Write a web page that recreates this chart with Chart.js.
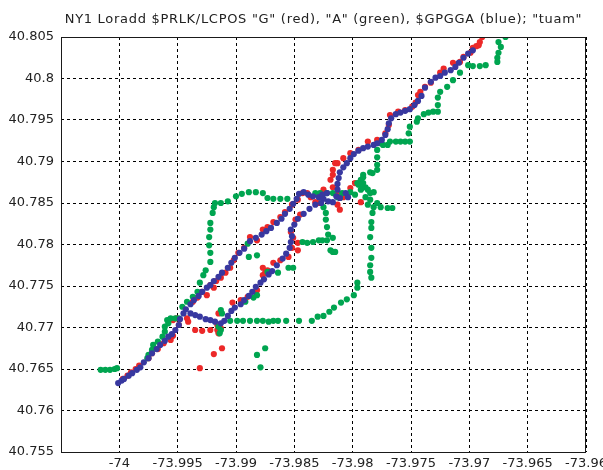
<!DOCTYPE html>
<html>
<head>
<meta charset="UTF-8">
<title>NY1 Loradd tracks</title>
<script src="https://cdn.jsdelivr.net/npm/chart.js@4.4.0/dist/chart.umd.min.js"></script>
<style>
  html, body { margin: 0; padding: 0; background: #fff; }
</style>
</head>
<body>
<canvas id="plot" width="603" height="470"></canvas>
<script>
var chartTitle = 'NY1 Loradd $PRLK/LCPOS "G" (red), "A" (green), $GPGGA (blue); "tuam"';

var xTicks = [-74.005, -74, -73.995, -73.99, -73.985, -73.98, -73.975, -73.97, -73.965, -73.96];
var yTicks = [40.755, 40.76, 40.765, 40.77, 40.775, 40.78, 40.785, 40.79, 40.795, 40.8, 40.805];

// $GPGGA (blue)
var blueLon = [-74.0001, -73.9998, -73.9996, -73.9992, -73.9989, -73.9985, -73.9982, -73.9979, -73.9975, -73.9972,
  -73.9968, -73.9965, -73.9961, -73.9958, -73.9955, -73.9952, -73.9949, -73.9948, -73.9945, -73.9943,
  -73.9939, -73.9936, -73.9932, -73.9929, -73.9925, -73.9922, -73.9919, -73.9915, -73.9912, -73.9907,
  -73.9904, -73.9901, -73.9897, -73.9893, -73.9888, -73.9883, -73.9878, -73.9874, -73.9870, -73.9865,
  -73.9861, -73.9858, -73.9854, -73.9851, -73.9848, -73.9846, -73.9842, -73.9838, -73.9834, -73.9829,
  -73.9825, -73.9821, -73.9817,
  -73.9939, -73.9935, -73.9931, -73.9926, -73.9922, -73.9918, -73.9913, -73.9910,
  -73.9907, -73.9904, -73.9901, -73.9896, -73.9893, -73.9889, -73.9886, -73.9883, -73.9879, -73.9876,
  -73.9872, -73.9869, -73.9865, -73.9860, -73.9857, -73.9854, -73.9853, -73.9852, -73.9853, -73.9850,
  -73.9847, -73.9842, -73.9837, -73.9832, -73.9827,
  -73.9814, -73.9813, -73.9813, -73.9812, -73.9811, -73.9808, -73.9805, -73.9802, -73.9799, -73.9795,
  -73.9791, -73.9787, -73.9782, -73.9779, -73.9775, -73.9772, -73.9770, -73.9769, -73.9767, -73.9763,
  -73.9759, -73.9755, -73.9751, -73.9747, -73.9744, -73.9741, -73.9738, -73.9733, -73.9729, -73.9725,
  -73.9721, -73.9716, -73.9712, -73.9709, -73.9705, -73.9701, -73.9697,
  -73.9806, -73.9804, -73.9811, -73.9822, -73.9826];
var blueLat = [40.7633, 40.7636, 40.7638, 40.7642, 40.7645, 40.7649, 40.7652, 40.7658, 40.7663, 40.7669,
  40.7674, 40.7679, 40.7684, 40.7689, 40.7692, 40.7697, 40.7703, 40.7710, 40.7717, 40.7722,
  40.7728, 40.7733, 40.7738, 40.7743, 40.7748, 40.7751, 40.7756, 40.7761, 40.7766, 40.7772,
  40.7778, 40.7784, 40.7790, 40.7795, 40.7804, 40.7808, 40.7812, 40.7816, 40.7820, 40.7826,
  40.7831, 40.7837, 40.7843, 40.7849, 40.7855, 40.7861, 40.7863, 40.7860, 40.7858, 40.7857,
  40.7855, 40.7852, 40.7851,
  40.7717, 40.7715, 40.7713, 40.7710, 40.7709, 40.7707, 40.7705, 40.7708,
  40.7714, 40.7720, 40.7724, 40.7728, 40.7733, 40.7738, 40.7743, 40.7749, 40.7754, 40.7758,
  40.7764, 40.7768, 40.7775, 40.7783, 40.7789, 40.7796, 40.7803, 40.7810, 40.7818, 40.7824,
  40.7831, 40.7837, 40.7843, 40.7848, 40.7850,
  40.7858, 40.7866, 40.7873, 40.7880, 40.7887, 40.7893, 40.7898, 40.7904, 40.7909, 40.7913,
  40.7916, 40.7918, 40.7920, 40.7922, 40.7926, 40.7932, 40.7939, 40.7946, 40.7952, 40.7957,
  40.7959, 40.7961, 40.7963, 40.7968, 40.7973, 40.7979, 40.7989, 40.7996, 40.8001, 40.8003,
  40.8007, 40.8010, 40.8014, 40.8019, 40.8025, 40.8030, 40.8034,
  40.7862, 40.7857, 40.7856, 40.7862, 40.7860];

// $PRLK/LCPOS "G" (red)
var redLon = [-73.9997, -73.9993, -73.9990, -73.9986, -73.9983, -73.9975, -73.9972, -73.9967, -73.9962, -73.9956,
  -73.9954, -73.9949, -73.9954, -73.9951, -73.9942, -73.9941, -73.9935, -73.9929, -73.9922, -73.9916,
  -73.9915, -73.9912, -73.9919, -73.9931,
  -73.9937, -73.9933, -73.9929, -73.9925, -73.9922, -73.9919, -73.9917, -73.9913, -73.9909, -73.9905,
  -73.9902, -73.9898, -73.9893, -73.9888, -73.9882, -73.9877, -73.9873, -73.9868, -73.9862, -73.9858,
  -73.9852, -73.9847, -73.9843, -73.9839, -73.9836, -73.9832, -73.9829,
  -73.9915, -73.9916, -73.9913, -73.9903, -73.9896, -73.9890, -73.9883, -73.9882, -73.9877, -73.9877,
  -73.9875, -73.9873, -73.9868, -73.9862, -73.9855, -73.9852, -73.9847, -73.9847, -73.9851, -73.9853,
  -73.9849, -73.9845,
  -73.9825, -73.9819, -73.9817, -73.9815, -73.9813, -73.9808, -73.9811, -73.9813, -73.9798, -73.9793,
  -73.9802, -73.9817,
  -73.9817, -73.9813, -73.9808, -73.9802, -73.9795, -73.9787, -73.9779, -73.9772, -73.9769, -73.9768,
  -73.9761, -73.9755, -73.9749, -73.9746, -73.9744, -73.9742, -73.9738, -73.9733, -73.9725, -73.9722,
  -73.9714, -73.9708, -73.9705, -73.9699, -73.9697, -73.9694, -73.9692, -73.9691, -73.9689];
var redLat = [40.7638, 40.7642, 40.7646, 40.7650, 40.7654, 40.7663, 40.7669, 40.7674, 40.7681, 40.7685,
  40.7690, 40.7703, 40.7709, 40.7711, 40.7711, 40.7707, 40.7697, 40.7696, 40.7697, 40.7697,
  40.7693, 40.7675, 40.7668, 40.7651,
  40.7731, 40.7736, 40.7743, 40.7739, 40.7751, 40.7748, 40.7756, 40.7760, 40.7766, 40.7772,
  40.7781, 40.7790, 40.7796, 40.7809, 40.7805, 40.7818, 40.7821, 40.7827, 40.7833, 40.7839,
  40.7848, 40.7854, 40.7862, 40.7862, 40.7857, 40.7851, 40.7850,
  40.7717, 40.7703, 40.7699, 40.7730, 40.7733, 40.7737, 40.7743, 40.7745, 40.7763, 40.7772,
  40.7766, 40.7769, 40.7778, 40.7781, 40.7785, 40.7796, 40.7793, 40.7802, 40.7808, 40.7815,
  40.7830, 40.7836,
  40.7866, 40.7878, 40.7884, 40.7898, 40.7862, 40.7857, 40.7842, 40.7848, 40.7874, 40.7851,
  40.7868, 40.7869,
  40.7890, 40.7898, 40.7904, 40.7910, 40.7914, 40.7924, 40.7926, 40.7934, 40.7944, 40.7956,
  40.7960, 40.7962, 40.7966, 40.7971, 40.7980, 40.7984, 40.7990, 40.7995, 40.8007, 40.8012,
  40.8019, 40.8020, 40.8026, 40.8031, 40.8037, 40.8039, 40.8040, 40.8044, 40.8050];

// "A" (green)
var greenLon = [-74.0016, -74.0012, -74.0008, -74.0004, -74.0002,
  -73.9976, -73.9975, -73.9972, -73.9971, -73.9967, -73.9963, -73.9961, -73.9961, -73.9958, -73.9959,
  -73.9956, -73.9952, -73.9949,
  -73.9946, -73.9942, -73.9937, -73.9933, -73.9931, -73.9928, -73.9926, -73.9922, -73.9922, -73.9923,
  -73.9923, -73.9922, -73.9922, -73.9920, -73.9919, -73.9918, -73.9913, -73.9907, -73.9900, -73.9895,
  -73.9889, -73.9883, -73.9877, -73.9873, -73.9868, -73.9862, -73.9856,
  -73.9832, -73.9828, -73.9822, -73.9817, -73.9813, -73.9811, -73.9809, -73.9802, -73.9798, -73.9793,
  -73.9789, -73.9796, -73.9793, -73.9791, -73.9785, -73.9779, -73.9779, -73.9783, -73.9791, -73.9791,
  -73.9795, -73.9792, -73.9787, -73.9785, -73.9782, -73.9789, -73.9785, -73.9787, -73.9782, -73.9779,
  -73.9776, -73.9770, -73.9766, -73.9783, -73.9784, -73.9784, -73.9785, -73.9784, -73.9784, -73.9785,
  -73.9785, -73.9784, -73.9796, -73.9796,
  -73.9828, -73.9825, -73.9823, -73.9823, -73.9822, -73.9821, -73.9822, -73.9826, -73.9829, -73.9834,
  -73.9839, -73.9843, -73.9817, -73.9819, -73.9817, -73.9815,
  -73.9890, -73.9882, -73.9889, -73.9855, -73.9851, -73.9873, -73.9864, -73.9885, -73.9892, -73.9882,
  -73.9913, -73.9912, -73.9915, -73.9913, -73.9914,
  -73.9905, -73.9899, -73.9894, -73.9888, -73.9882, -73.9877, -73.9872, -73.9868, -73.9864, -73.9857,
  -73.9846, -73.9835,
  -73.9830, -73.9825, -73.9820, -73.9816, -73.9810, -73.9805, -73.9799,
  -73.9875, -73.9882, -73.9879,
  -73.9779, -73.9779, -73.9776, -73.9774, -73.9770, -73.9768, -73.9763, -73.9759, -73.9755, -73.9751,
  -73.9752, -73.9751, -73.9745, -73.9744, -73.9739, -73.9735, -73.9731, -73.9727, -73.9727, -73.9727,
  -73.9725, -73.9719, -73.9714, -73.9708, -73.9701, -73.9697, -73.9691, -73.9686, -73.9676, -73.9676,
  -73.9675, -73.9673, -73.9675, -73.9669];
var greenLat = [40.7649, 40.7649, 40.7649, 40.7650, 40.7651,
  40.7663, 40.7667, 40.7673, 40.7679, 40.7683, 40.7689, 40.7695, 40.7701, 40.7705, 40.7709,
  40.7711, 40.7711, 40.7711,
  40.7725, 40.7731, 40.7737, 40.7743, 40.7754, 40.7763, 40.7769, 40.7779, 40.7790, 40.7799,
  40.7809, 40.7818, 40.7826, 40.7838, 40.7845, 40.7850, 40.7850, 40.7852, 40.7858, 40.7861,
  40.7863, 40.7863, 40.7862, 40.7856, 40.7855, 40.7855, 40.7855,
  40.7862, 40.7862, 40.7862, 40.7862, 40.7857, 40.7856, 40.7862, 40.7863, 40.7860, 40.7866,
  40.7869, 40.7874, 40.7878, 40.7884, 40.7887, 40.7890, 40.7896, 40.7886, 40.7881, 40.7874,
  40.7872, 40.7868, 40.7866, 40.7862, 40.7863, 40.7857, 40.7854, 40.7848, 40.7845, 40.7850,
  40.7845, 40.7844, 40.7844, 40.7838, 40.7827, 40.7820, 40.7809, 40.7796, 40.7784, 40.7775,
  40.7767, 40.7760, 40.7754, 40.7748,
  40.7857, 40.7845, 40.7838, 40.7830, 40.7821, 40.7812, 40.7805, 40.7805, 40.7805, 40.7803,
  40.7802, 40.7803, 40.7808, 40.7793, 40.7791, 40.7791,
  40.7801, 40.7787, 40.7785, 40.7772, 40.7772, 40.7767, 40.7766, 40.7736, 40.7731, 40.7739,
  40.7721, 40.7717, 40.7701, 40.7697, 40.7693,
  40.7708, 40.7708, 40.7708, 40.7708, 40.7708, 40.7708, 40.7707, 40.7708, 40.7708, 40.7708,
  40.7708, 40.7708,
  40.7713, 40.7714, 40.7719, 40.7724, 40.7730, 40.7734, 40.7739,
  40.7675, 40.7667, 40.7652,
  40.7905, 40.7914, 40.7922, 40.7920, 40.7920, 40.7924, 40.7924, 40.7924, 40.7924, 40.7924,
  40.7934, 40.7942, 40.7948, 40.7952, 40.7957, 40.7959, 40.7960, 40.7960, 40.7968, 40.7977,
  40.7984, 40.7990, 40.7998, 40.8007, 40.8016, 40.8015, 40.8015, 40.8016, 40.8020, 40.8025,
  40.8031, 40.8038, 40.8044, 40.8050];

function toPoints(lon, lat) {
  return lon.map(function (x, i) { return { x: x, y: lat[i] }; });
}
function fmt(v) {
  return String(parseFloat(v.toFixed(3)));
}

var labelFont = { family: '"DejaVu Sans", sans-serif', size: 13 };

// title and the closed axes box
var framePlugin = {
  id: 'frame',
  afterDraw: function (chart) {
    var a = chart.chartArea, ctx = chart.ctx;
    ctx.save();
    ctx.strokeStyle = '#1a1a1a';
    ctx.lineWidth = 1;
    ctx.strokeRect(Math.round(a.left) + 0.5, Math.round(a.top) + 0.5,
      Math.round(a.right - a.left) - 1, Math.round(a.bottom - a.top));
    ctx.fillStyle = '#222';
    ctx.font = '13px "DejaVu Sans", sans-serif';
    ctx.letterSpacing = '0.7px';
    ctx.textAlign = 'center';
    ctx.textBaseline = 'middle';
    ctx.fillText(chartTitle, (a.left + a.right) / 2, 19.5);
    ctx.restore();
  }
};

var ctx = document.getElementById('plot');
var plot = new Chart(ctx, {
  type: 'scatter',
  data: {
    datasets: [
      {
        label: '$GPGGA',
        data: toPoints(blueLon, blueLat),
        backgroundColor: 'rgb(56, 56, 160)',
        borderWidth: 0,
        pointRadius: 3.1
      },
      {
        label: 'A',
        data: toPoints(greenLon, greenLat),
        backgroundColor: 'rgb(0, 165, 80)',
        borderWidth: 0,
        pointRadius: 3.1
      },
      {
        label: 'G',
        data: toPoints(redLon, redLat),
        backgroundColor: 'rgb(236, 40, 40)',
        borderWidth: 0,
        pointRadius: 3.1
      }
    ]
  },
  options: {
    responsive: false,
    animation: false,
    events: [],
    layout: { padding: { top: 37, right: 17, left: 0, bottom: 0 } },
    plugins: {
      legend: { display: false },
      tooltip: { enabled: false },
      title: { display: false }
    },
    scales: {
      x: {
        type: 'linear',
        min: -74.005,
        max: -73.96,
        afterBuildTicks: function (scale) {
          scale.ticks = xTicks.map(function (v) { return { value: v }; });
        },
        afterFit: function (scale) {
          scale.height = 18;
          scale.paddingLeft = 0;
          scale.paddingRight = 0;
        },
        grid: { color: '#000', drawTicks: false, tickLength: 0 },
        border: { display: false, dash: [3, 3] },
        ticks: {
          autoSkip: false,
          maxRotation: 0,
          padding: 4,
          color: '#222',
          font: labelFont,
          callback: function (v) { return v === -74.005 ? '' : fmt(v); }
        }
      },
      y: {
        type: 'linear',
        min: 40.755,
        max: 40.805,
        afterBuildTicks: function (scale) {
          scale.ticks = yTicks.map(function (v) { return { value: v }; });
        },
        afterFit: function (scale) {
          scale.width = 61;
        },
        grid: { color: '#000', drawTicks: false, tickLength: 0 },
        border: { display: false, dash: [3, 3] },
        ticks: {
          autoSkip: false,
          padding: 7,
          color: '#222',
          font: labelFont,
          callback: function (v) { return fmt(v); }
        }
      }
    }
  },
  plugins: [framePlugin]
});
</script>
</body>
</html>
